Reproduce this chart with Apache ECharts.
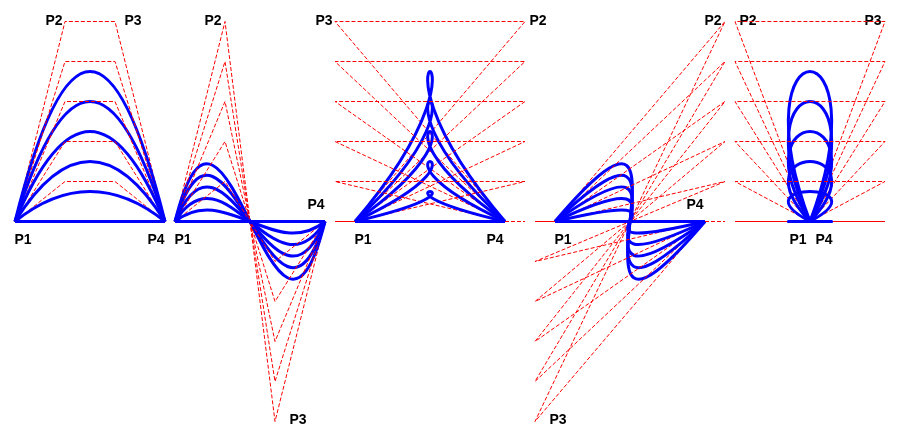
<!DOCTYPE html>
<html>
<head>
<meta charset="utf-8">
<script src="https://cdn.jsdelivr.net/npm/echarts@6/dist/echarts.min.js"></script>
<style>
html,body{margin:0;padding:0;background:#fff;}
#chart{width:901px;height:438px;}
</style>
</head>
<body>
<div id="chart"></div>
<script>
// Control points of the five cubic Bezier families (pixel-like units)
const baseY = 221.5;
const levels = [200, 160, 120, 80, 40, 0];      // heights of P2/P3 above the baseline
const p1X = [15, 175, 355, 555, 810];
const p2X = [65, 225, 525, 725, 735];
const p3X = [115, 275, 335, 535, 885];
const p4X = [165, 325, 505, 705, 810];
const p3Dir = [1, -1, 1, -1, 1];                 // +1 = P3 above baseline, -1 = below

// Point labels: [x, y, text]
const pointLabels = [
  [23, 240, 'P1'], [156, 240, 'P4'], [54, 21, 'P2'], [133, 21, 'P3'],
  [183, 240, 'P1'], [213, 21, 'P2'], [316, 205, 'P4'], [298, 420, 'P3'],
  [363, 240, 'P1'], [495, 240, 'P4'], [324, 21, 'P3'], [538, 21, 'P2'],
  [563, 240, 'P1'], [713, 21, 'P2'], [695, 205, 'P4'], [558, 420, 'P3'],
  [798, 240, 'P1'], [824, 240, 'P4'], [748, 21, 'P2'], [873, 21, 'P3']
];

const curveData = [];
levels.forEach(function (h) {
  for (let i = 0; i < p1X.length; i++) {
    curveData.push([
      p1X[i], baseY,
      p2X[i], baseY - h,
      p3X[i], baseY - p3Dir[i] * h,
      p4X[i], baseY
    ]);
  }
});

const chart = echarts.init(document.getElementById('chart'), null, {renderer: 'canvas'});
chart.setOption({
  animation: false,
  backgroundColor: '#ffffff',
  grid: {left: 0, right: 0, top: 0, bottom: 0},
  xAxis: {type: 'value', min: 0, max: 901, show: false},
  yAxis: {type: 'value', min: 0, max: 438, inverse: true, show: false},
  series: [
    {
      type: 'custom',
      clip: false,
      data: curveData,
      renderItem: function (params, api) {
        const a = api.coord([api.value(0), api.value(1)]);
        const b = api.coord([api.value(2), api.value(3)]);
        const c = api.coord([api.value(4), api.value(5)]);
        const d = api.coord([api.value(6), api.value(7)]);
        const k = params.dataIndex * 2;
        return {
          type: 'group',
          children: [
            {
              type: 'polyline',
              z2: k,
              shape: {points: [a, b, c, d]},
              style: {stroke: '#ff0000', lineWidth: 1, lineDash: [4, 2], fill: null}
            },
            {
              type: 'bezierCurve',
              z2: k + 1,
              shape: {x1: a[0], y1: a[1], cpx1: b[0], cpy1: b[1], cpx2: c[0], cpy2: c[1], x2: d[0], y2: d[1]},
              style: {stroke: '#0000ff', lineWidth: 3, fill: null}
            }
          ]
        };
      }
    },
    {
      type: 'custom',
      clip: false,
      data: pointLabels,
      renderItem: function (params, api) {
        const p = api.coord([api.value(0), api.value(1)]);
        return {
          type: 'text',
          x: p[0], y: p[1],
          style: {
            text: pointLabels[params.dataIndex][2],
            font: 'bold 14px "Liberation Sans", Arial, sans-serif',
            fill: '#000000',
            align: 'center',
            verticalAlign: 'middle'
          }
        };
      }
    }
  ]
});
</script>
</body>
</html>
